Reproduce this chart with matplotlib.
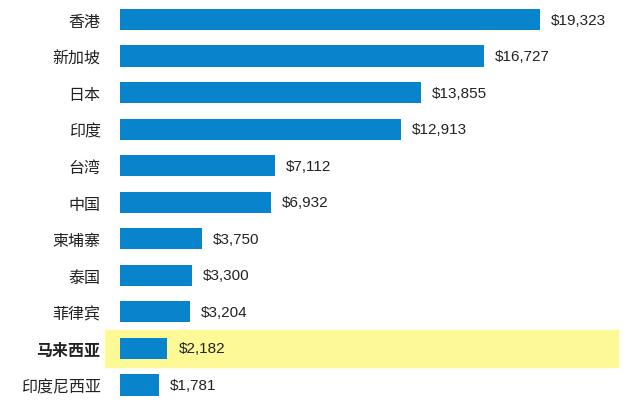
import matplotlib.pyplot as plt

countries = ['香港', '新加坡', '日本', '印度', '台湾', '中国', '柬埔寨', '泰国', '菲律宾', '马来西亚', '印度尼西亚']
values = [19323, 16727, 13855, 12913, 7112, 6932, 3750, 3300, 3204, 2182, 1781]
highlight = '马来西亚'

plt.rcParams['font.family'] = ['Noto Sans CJK SC', 'DejaVu Sans']

fig = plt.figure(figsize=(6.4, 4.1), dpi=100)
# axes starts where the bars start (x=120px), full height
ax = fig.add_axes([120 / 640, 0, 520 / 640, 1])

pos = list(range(len(countries)))
ax.barh(pos, values, height=0.58, color='#0784cc', zorder=2)

# highlighted row band, reaching a bit left of the bars
hi = countries.index(highlight)
ax.axhspan(hi - 0.5, hi + 0.5, xmin=-15 / 520, xmax=498 / 520,
           color='#fdf996', zorder=1, clip_on=False)

for p, v in zip(pos, values):
    ax.annotate(f'${v:,}', (v, p), xytext=(8, 0), textcoords='offset points',
                va='center', ha='left', fontsize=11, color='#222222',
                family=['Liberation Sans', 'DejaVu Sans'])

ax.set_yticks(pos)
ax.set_yticklabels(countries, fontsize=11.5, color='#222222')
for lbl in ax.get_yticklabels():
    if lbl.get_text() == highlight:
        lbl.set_fontweight('bold')
ax.tick_params(axis='y', length=0, pad=14)

ax.set_xlim(0, 520 / 0.02174)
ax.set_ylim(10.657, -0.561)
ax.set_xticks([])
for s in ax.spines.values():
    s.set_visible(False)

fig.savefig('out.png', dpi=100)
